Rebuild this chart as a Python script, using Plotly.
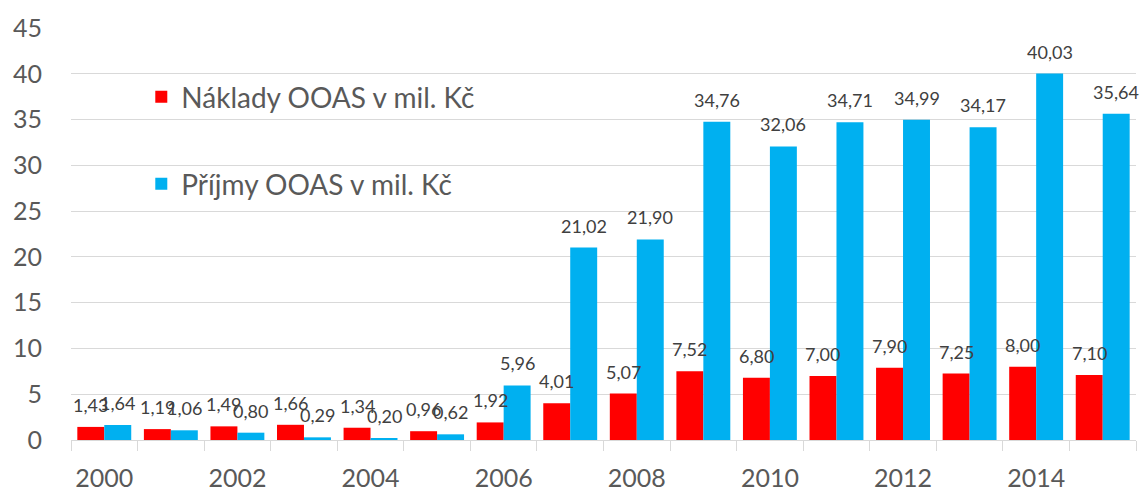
import plotly.graph_objects as go

years = list(range(2000, 2016))
naklady = [1.43, 1.19, 1.49, 1.66, 1.34, 0.96, 1.92, 4.01, 5.07, 7.52, 6.80, 7.00, 7.90, 7.25, 8.00, 7.10]
prijmy = [1.64, 1.06, 0.80, 0.29, 0.20, 0.62, 5.96, 21.02, 21.90, 34.76, 32.06, 34.71, 34.99, 34.17, 40.03, 35.64]
x_tick_labels = [2000, 2002, 2004, 2006, 2008, 2010, 2012, 2014]
y_ticks = [0, 5, 10, 15, 20, 25, 30, 35, 40, 45]

FONT = "Lato"
LABEL_COLOR = "#404040"
AXIS_COLOR = "#595959"
GRID = "#d9d9d9"
BARGAP = 0.19
BAR_W = (1 - BARGAP) / 2


def fmt(v):
    return f"{v:.2f}".replace(".", ",")


fig = go.Figure()
fig.add_trace(go.Bar(
    x=years, y=naklady, name="Náklady OOAS v mil. Kč",
    marker=dict(color="#FF0000", line=dict(width=0)),
    showlegend=True, legend="legend",
))
fig.add_trace(go.Bar(
    x=years, y=prijmy, name="Příjmy OOAS v mil. Kč",
    marker=dict(color="#00B0F0", line=dict(width=0)),
    showlegend=True, legend="legend2",
))

annotations = []
for yr, v in zip(years, naklady):
    annotations.append(dict(x=yr - BAR_W / 2, y=v, text=fmt(v), showarrow=False,
                            xanchor="center", yanchor="bottom", yshift=9,
                            font=dict(family=FONT, size=18, color=LABEL_COLOR)))
for yr, v in zip(years, prijmy):
    annotations.append(dict(x=yr + BAR_W / 2, y=v, text=fmt(v), showarrow=False,
                            xanchor="center", yanchor="bottom", yshift=9,
                            font=dict(family=FONT, size=18, color=LABEL_COLOR)))

fig.update_layout(
    width=1147, height=490,
    margin=dict(l=71, r=11, t=28, b=50, autoexpand=False),
    paper_bgcolor="white", plot_bgcolor="white",
    barmode="group", bargap=BARGAP, bargroupgap=0,
    font=dict(family=FONT, color=AXIS_COLOR),
    showlegend=True,
    annotations=annotations,
    legend=dict(x=0.066, y=0.8325, xanchor="left", yanchor="middle",
                bgcolor="rgba(0,0,0,0)", font=dict(family=FONT, size=28, color=AXIS_COLOR)),
    legend2=dict(x=0.066, y=0.621, xanchor="left", yanchor="middle",
                 bgcolor="rgba(0,0,0,0)", font=dict(family=FONT, size=28, color=AXIS_COLOR)),
    xaxis=dict(
        range=[1999.5, 2015.5], tickmode="array", tickvals=x_tick_labels,
        ticktext=[str(v) for v in x_tick_labels],
        ticks="", ticklabelstandoff=16, automargin=False,
        tickfont=dict(family=FONT, size=25, color=AXIS_COLOR),
        showline=True, linecolor=GRID, linewidth=1, showgrid=False, zeroline=False,
        minor=dict(tick0=1999.5, dtick=1, ticks="outside", ticklen=10,
                   tickcolor=GRID, tickwidth=1, showgrid=False),
    ),
    yaxis=dict(
        range=[0, 45], tickmode="array", tickvals=y_ticks, automargin=False,
        showgrid=True, gridcolor=GRID, gridwidth=1, zeroline=False,
        ticks="", ticklabelstandoff=28,
        tickfont=dict(family=FONT, size=25, color=AXIS_COLOR),
    ),
)

fig.write_html(
    "out.html",
    config={"displayModeBar": False},
    post_script="document.body.style.margin='0';document.body.style.overflow='hidden';",
)
